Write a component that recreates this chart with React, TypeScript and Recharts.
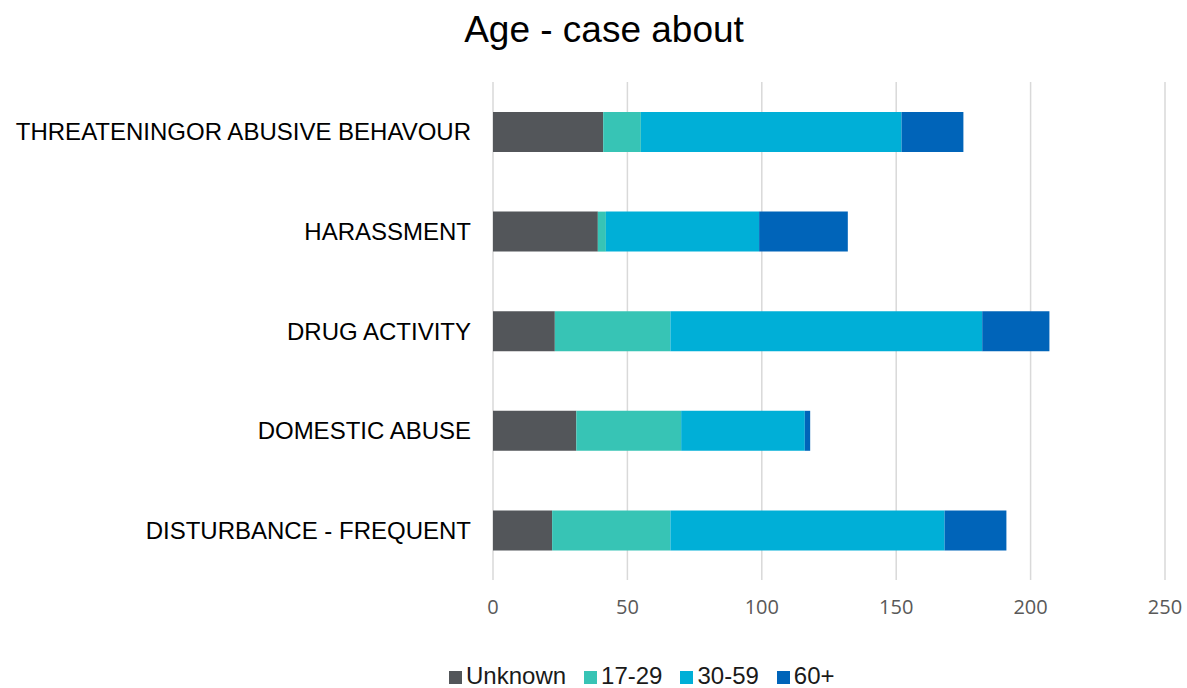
import { BarChart, Bar, XAxis, YAxis, CartesianGrid, Legend } from 'recharts'

const categories = [
  'THREATENINGOR ABUSIVE BEHAVOUR',
  'HARASSMENT',
  'DRUG ACTIVITY',
  'DOMESTIC ABUSE',
  'DISTURBANCE - FREQUENT',
]
const unknown = [41, 39, 23, 31, 22]
const age17to29 = [14, 3, 43, 39, 44]
const age30to59 = [97, 57, 116, 46, 102]
const age60plus = [23, 33, 25, 2, 23]
const xTicks = [0, 50, 100, 150, 200, 250]

const series = [
  { key: 'unknown', name: 'Unknown', color: '#53565A' },
  { key: 'a1729', name: '17-29', color: '#37C4B5' },
  { key: 'a3059', name: '30-59', color: '#00AFD7' },
  { key: 'a60', name: '60+', color: '#0064B9' },
]

const data = categories.map((name, i) => ({
  name,
  unknown: unknown[i],
  a1729: age17to29[i],
  a3059: age30to59[i],
  a60: age60plus[i],
}))

const FONT = '"Liberation Sans", Arial, sans-serif'

function LegendContent() {
  return (
    <div style={{ display: 'flex', alignItems: 'center', height: 24, marginTop: 24, fontFamily: FONT, fontSize: 24, lineHeight: 1, color: '#1a1a1a' }}>
      {series.map((s) => (
        <span key={s.key} style={{ display: 'flex', alignItems: 'center', marginRight: 18 }}>
          <span style={{ width: 13, height: 13, background: s.color, display: 'inline-block', marginRight: 4, marginTop: 3 }} />
          <span>{s.name}</span>
        </span>
      ))}
    </div>
  )
}

export default function App() {
  return (
    <div style={{ position: 'absolute', top: 0, left: 0, width: 1187, height: 688, background: '#fff', overflow: 'hidden' }}>
      <div
        style={{
          position: 'absolute', top: 11, left: 0, width: 1208, textAlign: 'center',
          fontFamily: FONT, fontSize: 37, lineHeight: 1, color: '#000',
        }}
      >
        Age - case about
      </div>
      <BarChart
        width={1187}
        height={688}
        data={data}
        layout="vertical"
        margin={{ top: 82, right: 22, bottom: 0, left: 0 }}
        barSize={40}
      >
        <CartesianGrid horizontal={false} stroke="#d9d9d9" strokeWidth={1.5} />
        <XAxis
          type="number"
          domain={[0, 250]}
          ticks={xTicks}
          axisLine={false}
          tickLine={false}
          tickSize={0}
          tickMargin={20}
          height={60}
          interval={0}
          tick={{ fill: '#595959', fontSize: 20, fontFamily: '"Open Sans", sans-serif' }}
        />
        <YAxis
          type="category"
          dataKey="name"
          axisLine={false}
          tickLine={false}
          tickSize={0}
          tickMargin={22}
          width={493}
          interval={0}
          tick={{ fill: '#000', fontSize: 24, fontFamily: FONT }}
        />
        <Legend
          verticalAlign="bottom"
          align="left"
          height={48}
          wrapperStyle={{ left: 449, width: 420 }}
          content={<LegendContent />}
        />
        {series.map((s) => (
          <Bar key={s.key} dataKey={s.key} name={s.name} stackId="a" fill={s.color} isAnimationActive={false} />
        ))}
      </BarChart>
    </div>
  )
}
